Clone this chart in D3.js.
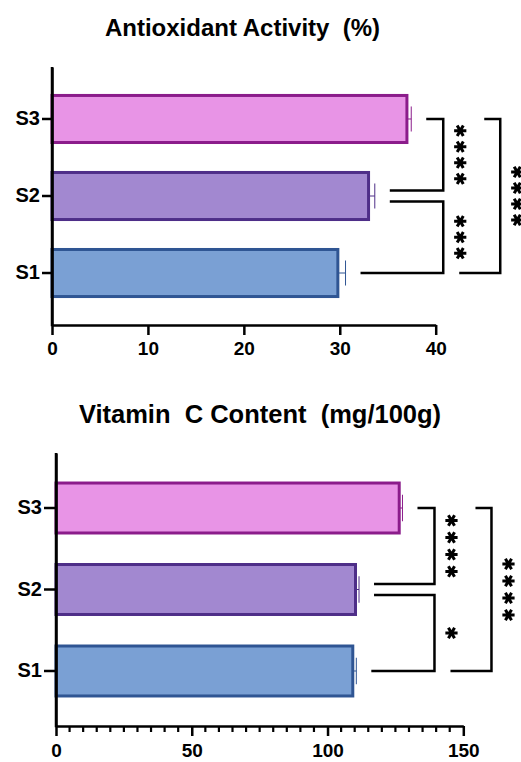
<!DOCTYPE html>
<html>
<head>
<meta charset="utf-8">
<script src="https://cdn.jsdelivr.net/npm/d3@7"></script>
<style>
  body { margin: 0; background: #fff; }
  svg { display: block; font-family: "Liberation Sans", Arial, sans-serif; }
</style>
</head>
<body>
<svg width="521" height="762"></svg>
<script>
var width = 521, height = 762;

// data
var categories = ["S1", "S2", "S3"];
var antioxMean = [29.8, 33.0, 37.0];
var antioxErr = [0.8, 0.65, 0.45];
var antioxTicks = [0, 10, 20, 30, 40];
var vitcMean = [109.3, 110.3, 126.4];
var vitcErr = [1.3, 1.3, 1.2];
var vitcTicks = [0, 50, 100, 150];
var vitcMinor = d3.range(0, 151, 5);

// significance: [pair, stars]
var antioxSig = [["S2", "S3", "****"], ["S1", "S2", "***"], ["S1", "S3", "****"]];
var vitcSig = [["S2", "S3", "****"], ["S1", "S2", "*"], ["S1", "S3", "****"]];

var fills = ["#7aa0d4", "#a288d0", "#e894e6"];
var strokes = ["#2f5593", "#4e2e88", "#8b1c8b"];

var svg = d3.select("svg");

function drawPanel(opt) {
  var g = svg.append("g");

  var x = d3.scaleLinear().domain(opt.domain).range([opt.left, opt.right]);
  var y = d3.scaleBand().domain(categories.slice().reverse())
    .range([opt.top, opt.bottom]).paddingInner(0.35).paddingOuter(0.35);

  var rows = categories.map(function(c, i) {
    return {cat: c, mean: opt.mean[i], err: opt.err[i], fill: fills[i], stroke: strokes[i]};
  });

  // title
  g.append("text")
    .attr("x", opt.titleX).attr("y", opt.titleY)
    .attr("text-anchor", "middle")
    .style("white-space", "pre")
    .style("font-size", opt.titleSize + "px").style("font-weight", "bold")
    .text(opt.title);

  // bars
  g.selectAll("rect.bar").data(rows).enter().append("rect")
    .attr("class", "bar")
    .attr("x", x(0))
    .attr("y", function(d) { return y(d.cat) + 1.5; })
    .attr("width", function(d) { return x(d.mean) - x(0); })
    .attr("height", y.bandwidth() - 3)
    .attr("fill", function(d) { return d.fill; })
    .attr("stroke", function(d) { return d.stroke; })
    .attr("stroke-width", 3);

  // error bars (positive side only)
  var eb = g.selectAll("g.err").data(rows).enter().append("g")
    .attr("stroke", function(d) { return d.stroke; })
    .attr("stroke-width", 1);
  eb.append("line")
    .attr("x1", function(d) { return x(d.mean); })
    .attr("x2", function(d) { return x(d.mean + d.err); })
    .attr("y1", function(d) { return y(d.cat) + y.bandwidth() / 2; })
    .attr("y2", function(d) { return y(d.cat) + y.bandwidth() / 2; });
  eb.append("line")
    .attr("x1", function(d) { return x(d.mean + d.err); })
    .attr("x2", function(d) { return x(d.mean + d.err); })
    .attr("y1", function(d) { return y(d.cat) + y.bandwidth() / 4; })
    .attr("y2", function(d) { return y(d.cat) + y.bandwidth() * 3 / 4; });

  // axes
  var xAxis = d3.axisBottom(x).tickValues(opt.ticks).tickSize(10).tickSizeOuter(0).tickPadding(opt.xPad);
  var ga = g.append("g").attr("transform", "translate(0," + opt.bottom + ")").call(xAxis);
  if (opt.minor) {
    g.append("g").attr("transform", "translate(0," + opt.bottom + ")")
      .selectAll("line").data(opt.minor.filter(function(v) { return opt.ticks.indexOf(v) < 0; }))
      .enter().append("line")
      .attr("x1", function(v) { return x(v); }).attr("x2", function(v) { return x(v); })
      .attr("y1", 0).attr("y2", 6)
      .attr("stroke", "#000").attr("stroke-width", 2.2);
  }
  var yAxis = d3.axisLeft(y).tickSize(opt.yTick).tickSizeOuter(0).tickPadding(2);
  var gy = g.append("g").attr("transform", "translate(" + opt.left + ",0)").call(yAxis);
  g.append("line")
    .attr("x1", opt.left).attr("x2", opt.left)
    .attr("y1", opt.top).attr("y2", opt.bottom + 1.2)
    .attr("stroke", "#000").attr("stroke-width", 2.5);

  ga.selectAll("text").style("font-size", "19px");
  gy.selectAll("text").style("font-size", "20px");
  [ga, gy].forEach(function(a) {
    a.select(".domain").attr("stroke-width", 2.5);
    a.selectAll(".tick line").attr("stroke-width", 2.5);
    a.selectAll("text").style("font-weight", "bold")
      .style("font-family", "'Liberation Sans', Arial, sans-serif").attr("fill", "#000");
  });

  // significance brackets
  function mid(c) { return y(c) + y.bandwidth() / 2; }
  function errEnd(c) {
    var r = rows[categories.indexOf(c)];
    return x(r.mean + r.err);
  }
  var maxEnd = d3.max(rows, function(r) { return x(r.mean + r.err); });
  var innerX = maxEnd + 32, outerX = innerX + 57;

  opt.sig.forEach(function(s) {
    var lo = s[0], hi = s[1];
    var outer = (lo === "S1" && hi === "S3");
    var bx = outer ? outerX : innerX;
    var yHi = mid(hi), yLo = mid(lo);
    if (!outer) {
      // shared middle bar: nudge arms apart
      if (hi === "S2") yHi += 5.5;
      if (lo === "S2") yLo -= 5.5;
    }
    var xHi = outer ? innerX + 41 : errEnd(hi) + 15;
    var xLo = outer ? innerX + 16 : errEnd(lo) + 15;
    g.append("path")
      .attr("d", "M" + xHi + "," + yHi + "H" + bx + "V" + yLo + "H" + xLo)
      .attr("fill", "none").attr("stroke", "#000").attr("stroke-width", 2.5);

    var n = s[2].length, gap = opt.starGap;
    var cy = (yHi + yLo) / 2;
    var pts = d3.range(n).map(function(k) { return cy + (k - (n - 1) / 2) * gap; });
    g.selectAll(null).data(pts).enter().append("path")
      .attr("d", d3.symbol(d3.symbolAsterisk, 105)())
      .attr("transform", function(p) { return "translate(" + (bx + 17) + "," + p + ") rotate(90)"; })
      .attr("fill", "none").attr("stroke", "#000").attr("stroke-width", 3);
  });
}

drawPanel({
  title: "Antioxidant Activity  (%)", titleX: 242.5, titleY: 36, titleSize: 24,
  domain: [0, 40], ticks: antioxTicks,
  left: 52, right: 435.7, top: 67, bottom: 325,
  mean: antioxMean, err: antioxErr, sig: antioxSig,
  xPad: 7, yTick: 10, starGap: 16
});

drawPanel({
  title: "Vitamin  C Content  (mg/100g)", titleX: 260, titleY: 423, titleSize: 25.5,
  domain: [0, 150], ticks: vitcTicks, minor: vitcMinor,
  left: 56, right: 463.3, top: 453, bottom: 726,
  mean: vitcMean, err: vitcErr, sig: vitcSig,
  xPad: 8, yTick: 12, starGap: 17
});
</script>
</body>
</html>
